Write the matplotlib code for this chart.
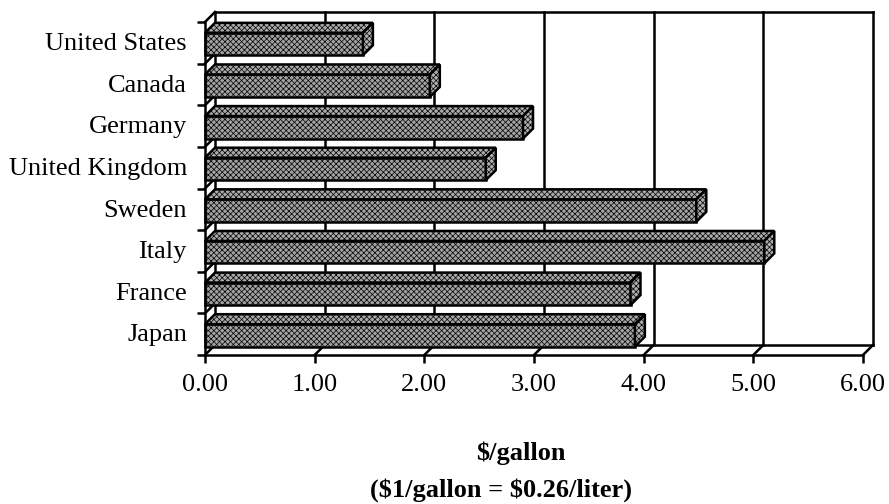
import matplotlib
matplotlib.use("Agg")
import matplotlib.pyplot as plt
from matplotlib.patches import Polygon

# Gasoline prices, $/gallon
countries = ["Japan", "France", "Italy", "Sweden", "United Kingdom",
             "Germany", "Canada", "United States"]
prices = [3.92, 3.88, 5.10, 4.48, 2.56, 2.90, 2.05, 1.44]
xticks = [0, 1, 2, 3, 4, 5, 6]
xticklabels = ["0.00", "1.00", "2.00", "3.00", "4.00", "5.00", "6.00"]

plt.rcParams["font.family"] = ["Liberation Serif", "DejaVu Serif"]
plt.rcParams["hatch.color"] = "#5e5e5e"
plt.rcParams["hatch.linewidth"] = 0.5

fig = plt.figure(figsize=(8.89, 5.04), dpi=100)
ax = fig.add_axes([205 / 889, 149 / 504, 658 / 889, 333 / 504])
ax.set_xlim(0, 6)
ax.set_ylim(0, len(countries))

# depth offset of the 3d look, in data units
dx = 0.091
dy = 0.24
lw = 1.8
n = len(countries)

line_kw = dict(color="black", lw=lw, clip_on=False, solid_capstyle="projecting")

# back wall: gridlines, top edge and left back edge
for k in xticks[1:]:
    ax.plot([k + dx, k + dx], [dy, n + dy], zorder=1, **line_kw)
ax.plot([dx, 6 + dx], [n + dy, n + dy], zorder=1, **line_kw)
ax.plot([dx, dx], [dy, n + dy], zorder=1, **line_kw)
ax.plot([0, dx], [n, n + dy], zorder=1, **line_kw)
# left wall category lines
for i in range(1, n):
    ax.plot([0, dx], [i, i + dy], zorder=1, **line_kw)
# floor
ax.plot([dx, 6 + dx], [dy, dy], zorder=1, **line_kw)
for k in xticks:
    ax.plot([k, k + dx], [0, dy], zorder=1, **line_kw)

# bars
lo, hi = 0.2, 0.74
for i, v in enumerate(prices):
    y0, y1 = i + lo, i + hi
    front = Polygon([(0, y0), (v, y0), (v, y1), (0, y1)], closed=True,
                    facecolor="#a2a2a2", edgecolor="black", lw=lw, zorder=3,
                    clip_on=False)
    top = Polygon([(0, y1), (dx, y1 + dy), (v + dx, y1 + dy), (v, y1)],
                  closed=True, facecolor="#aaaaaa", edgecolor="black", lw=lw,
                  zorder=3, clip_on=False)
    side = Polygon([(v, y0), (v + dx, y0 + dy), (v + dx, y1 + dy), (v, y1)],
                   closed=True, facecolor="#b0b0b0", edgecolor="black", lw=lw,
                   zorder=3, clip_on=False)
    for p in (front, top, side):
        p.set_hatch("xxxxxx")
        ax.add_patch(p)

for side_name in ["top", "right"]:
    ax.spines[side_name].set_visible(False)
for side_name in ["left", "bottom"]:
    ax.spines[side_name].set_linewidth(lw)
    ax.spines[side_name].set_zorder(4)

ax.set_xticks(xticks)
ax.set_xticklabels(xticklabels, fontsize=19)
ax.set_yticks(range(n + 1))
ax.set_yticklabels([])
ax.set_yticks([i + 0.53 for i in range(n)], minor=True)
ax.set_yticklabels(countries, minor=True, fontsize=19)
ax.tick_params(axis="both", which="major", direction="out", length=6, width=lw)
ax.tick_params(axis="x", pad=8)
ax.tick_params(axis="y", which="minor", length=0, pad=13)

fig.text(521 / 889, 1 - 453 / 504, "\\$/gallon", ha="center", va="center",
         fontsize=19, fontweight="bold")
fig.text(501 / 889, 1 - 490 / 504, "(\\$1/gallon = \\$0.26/liter)",
         ha="center", va="center", fontsize=19, fontweight="bold")

fig.savefig("out.png", dpi=100)
